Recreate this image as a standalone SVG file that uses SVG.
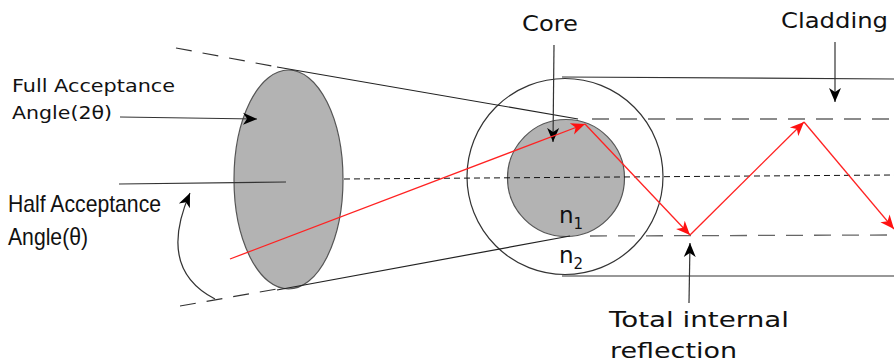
<svg xmlns="http://www.w3.org/2000/svg" width="894" height="363" viewBox="0 0 894 363">
<style>
.l{fill:none;stroke:#222;stroke-width:1.2}
.d{fill:none;stroke:#333;stroke-width:1.2;stroke-dasharray:16 11}
.g{fill:none;stroke:#666;stroke-width:1.3;stroke-dasharray:17 11}
.a{fill:none;stroke:#111;stroke-width:1;stroke-dasharray:6 4}
.r{fill:none;stroke:#f22;stroke-width:1.3}
.s{fill:#b3b3b3;stroke:#555;stroke-width:1.2}
.c{fill:none;stroke:#333;stroke-width:1.2}
.k{fill:none;stroke:#333;stroke-width:1.2}
text{fill:#111}
.o{font-family:"DejaVu Sans",sans-serif}
.n{font-family:"Liberation Sans",sans-serif}
</style>
<defs>
<marker id="ak" markerUnits="userSpaceOnUse" markerWidth="16" markerHeight="14" refX="14" refY="7" orient="auto"><path d="M0 1 L14 7 L0 13 L4 7 Z" fill="#000"/></marker>
<marker id="ar" markerUnits="userSpaceOnUse" markerWidth="16" markerHeight="14" refX="14" refY="7" orient="auto"><path d="M0 1 L14 7 L0 13 L4 7 Z" fill="#f11"/></marker>
</defs>
<g id="acceptance-cone"><ellipse class="s" cx="288.5" cy="179.5" rx="54.5" ry="109.5"/></g>
<g id="cladding"><circle class="c" cx="565" cy="176.5" r="98"/></g>
<g id="core"><circle class="s" cx="566" cy="178" r="58.5"/></g>
<g id="connectors">
<path class="d" d="M176 48 L277 67"/>
<path class="d" d="M180 306 L277 289"/>
<path class="l" d="M277 67 L578 119"/>
<path class="l" d="M277 290 L570 236"/>
<path class="a" d="M344 179 L894 175"/>
<path class="g" d="M592 119 L894 119"/>
<path class="g" d="M590 236 L894 235"/>
<path class="c" d="M562 77 L894 79"/>
<path class="c" d="M562 276 L894 276"/>
<path class="k" d="M120 117 L257 119" marker-end="url(#ak)"/>
<path class="k" d="M119 184 L286 182"/>
<path class="k" d="M215 299 C182 282 165 250 190 193" marker-end="url(#ak)"/>
<path class="k" d="M554 45 L553 142" marker-end="url(#ak)"/>
<path class="k" d="M835 42 L835 102" marker-end="url(#ak)"/>
<path class="k" d="M689 303 L690 243" marker-end="url(#ak)"/>
<path class="r" d="M230 259 L585 124" marker-end="url(#ar)"/>
<path class="r" d="M585 124 L690 235" marker-end="url(#ar)"/>
<path class="r" d="M690 235 L804 122" marker-end="url(#ar)"/>
<path class="r" d="M804 122 L894 229" marker-end="url(#ar)"/>
</g>
<g id="labels">
<text class="o" x="12" y="92" font-size="18" textLength="163" lengthAdjust="spacingAndGlyphs">Full Acceptance</text>
<text class="o" x="12" y="119" font-size="18" textLength="100" lengthAdjust="spacingAndGlyphs">Angle(2θ)</text>
<text class="n" x="8" y="212" font-size="24" textLength="153" lengthAdjust="spacingAndGlyphs">Half Acceptance</text>
<text class="n" x="8" y="245" font-size="24" textLength="80" lengthAdjust="spacingAndGlyphs">Angle(θ)</text>
<text class="o" x="522" y="31" font-size="22" textLength="56" lengthAdjust="spacingAndGlyphs">Core</text>
<text class="o" x="781" y="28" font-size="22" textLength="107" lengthAdjust="spacingAndGlyphs">Cladding</text>
<text class="o" x="559" y="223" font-size="23">n<tspan font-size="15" dy="6">1</tspan></text>
<text class="o" x="559" y="263" font-size="23">n<tspan font-size="15" dy="6">2</tspan></text>
<text class="o" x="609" y="326.5" font-size="22" textLength="180" lengthAdjust="spacingAndGlyphs">Total internal</text>
<text class="o" x="610" y="358" font-size="22" textLength="127" lengthAdjust="spacingAndGlyphs">reflection</text>
</g>
</svg>
